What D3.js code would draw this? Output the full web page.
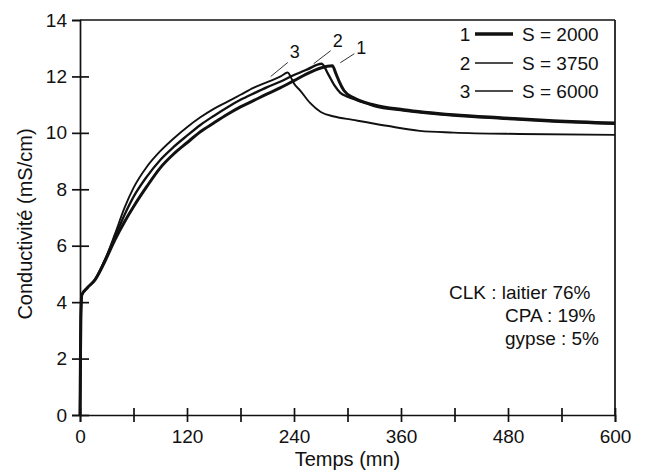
<!DOCTYPE html>
<html><head><meta charset="utf-8">
<script src="https://cdn.jsdelivr.net/npm/d3@7"></script>
<style>
body{margin:0;background:#fff;}
text{font-family:"Liberation Sans",Arial,Helvetica,sans-serif;fill:#111;}
</style></head>
<body>
<svg id="c" width="652" height="473"></svg>
<script>
// ---- data ----
const t1 = [0,0.5,1,2,8,17,28,39,50,60,75,90,105,120,135,150,165,180,195,210,225,240,255,270,283,287,291,296,307,330,363,419,475,531,600];
const v1 = [0,2,3.5,4.25,4.5,4.8,5.45,6.2,6.85,7.38,8.1,8.76,9.25,9.65,10.04,10.35,10.65,10.92,11.15,11.38,11.6,11.85,12.1,12.3,12.38,12.1,11.8,11.5,11.24,10.99,10.82,10.64,10.53,10.43,10.35];
const t2 = [0,0.5,1,2,8,17,28,39,50,60,75,90,105,120,135,150,165,180,195,210,225,240,255,271,278,285,292,300,310,330,363,419,475,531,600];
const v2 = [0,2,3.5,4.25,4.5,4.8,5.5,6.3,7.1,7.73,8.45,9.04,9.5,9.9,10.28,10.6,10.9,11.17,11.4,11.62,11.82,12.05,12.25,12.45,12.1,11.7,11.42,11.28,11.17,10.95,10.79,10.61,10.5,10.4,10.32];
const t3 = [0,0.5,1,2,8,17,28,39,50,60,75,90,105,120,135,150,165,180,195,210,225,233,236,240,247,258,270,285,306,344,381,419,493,600];
const v3 = [0,2,3.5,4.25,4.5,4.8,5.5,6.4,7.35,8.05,8.8,9.35,9.8,10.2,10.55,10.85,11.1,11.35,11.6,11.8,12.0,12.14,12.0,11.75,11.5,11.06,10.74,10.58,10.46,10.25,10.07,10.01,9.96,9.93];
const seriesNames = ["1","2","3"];
const seriesLabels = ["S = 2000","S = 3750","S = 6000"];
const xTicks = [0,60,120,180,240,300,360,420,480,540,600];
const yTicks = [0,2,4,6,8,10,12,14];
const noteLines = ["CLK : laitier 76%","CPA : 19%","gypse : 5%"];
const xTitle = "Temps (mn)";
const yTitle = "Conductivité (mS/cm)";

// ---- chart ----
const svg = d3.select("#c");
const L=80,R=615,T=20,B=415;
const x = d3.scaleLinear().domain([0,600]).range([L,R]);
const y = d3.scaleLinear().domain([0,14]).range([B,T]);

// frame top & right
svg.append("line").attr("x1",x(0)).attr("x2",x(600)).attr("y1",y(14)).attr("y2",y(14)).attr("stroke","#111").attr("stroke-width",1.7);
svg.append("line").attr("x1",x(600)).attr("x2",x(600)).attr("y1",y(14)).attr("y2",y(0)).attr("stroke","#111").attr("stroke-width",1.7);

const fs = 19;
const ax = svg.append("g").attr("transform",`translate(0,${B})`)
  .call(d3.axisBottom(x).tickValues(xTicks).tickSize(7).tickPadding(8)
    .tickFormat(d=> d%120===0 ? d : ""));
ax.select(".domain").attr("stroke","#111").attr("stroke-width",1.7);
ax.selectAll(".tick line").attr("y1",-7).attr("stroke","#111").attr("stroke-width",1.7);
ax.selectAll(".tick text").attr("font-size",fs).attr("font-family","Liberation Sans, Arial, sans-serif").attr("fill","#111");

const ay = svg.append("g").attr("transform",`translate(${L},0)`)
  .call(d3.axisLeft(y).tickValues(yTicks).tickSize(8).tickPadding(5));
ay.select(".domain").attr("stroke","#111").attr("stroke-width",1.7);
ay.selectAll(".tick line").attr("x1",d=> d===14?0:9).attr("stroke","#111").attr("stroke-width",1.7);
ay.selectAll(".tick text").attr("font-size",fs).attr("font-family","Liberation Sans, Arial, sans-serif").attr("fill","#111");

svg.append("text").attr("x",(L+R)/2).attr("y",466).attr("text-anchor","middle").attr("font-size",20).text(xTitle);
svg.append("text").attr("transform","translate(32,224) rotate(-90)").attr("text-anchor","middle").attr("font-size",20).text(yTitle);

// curves
const line = d3.line().x(d=>x(d[0])).y(d=>y(d[1])).curve(d3.curveMonotoneX);
const data = [d3.zip(t1,v1), d3.zip(t2,v2), d3.zip(t3,v3)];
const widths = [3,2.3,1.9];
data.forEach((d,i)=>{
  svg.append("path").datum(d).attr("d",line).attr("fill","none").attr("stroke","#111")
    .attr("stroke-width",widths[i]).attr("stroke-linejoin","round");
});

// curve labels with leaders
const peaks = [[283,12.38],[271,12.45],[233,12.14]];
const lblOff = [[[8,-3],[22,-12],[29,-16]],[[-8,0],[9,-13],[16,-21]],[[-17,4],[0,-10],[7,-19]]];
peaks.forEach((p,i)=>{
  const px=x(p[0]), py=y(p[1]);
  const o=lblOff[i];
  svg.append("line").attr("x1",px+o[0][0]).attr("y1",py+o[0][1]).attr("x2",px+o[1][0]).attr("y2",py+o[1][1])
    .attr("stroke","#333").attr("stroke-width",1);
  svg.append("text").attr("x",px+o[2][0]).attr("y",py+o[2][1]).attr("text-anchor","middle")
    .attr("font-size",18).attr("dominant-baseline","middle").text(seriesNames[i]);
});

// legend
const legY=[34,63,91];
const legW=[3.5,1.6,1.6];
seriesNames.forEach((n,i)=>{
  svg.append("text").attr("x",465).attr("y",legY[i]).attr("dy","0.36em").attr("text-anchor","middle").attr("font-size",19).text(n);
  svg.append("line").attr("x1",475).attr("x2",513).attr("y1",legY[i]).attr("y2",legY[i]).attr("stroke","#111").attr("stroke-width",legW[i]);
  svg.append("text").attr("x",522).attr("y",legY[i]).attr("dy","0.36em").attr("font-size",19).text(seriesLabels[i]);
});

// note
const noteX=[449,505,505], noteY=[299,322,345];
noteLines.forEach((s,i)=>{
  svg.append("text").attr("x",noteX[i]).attr("y",noteY[i]).attr("font-size",19).text(s);
});
</script>
</body></html>
